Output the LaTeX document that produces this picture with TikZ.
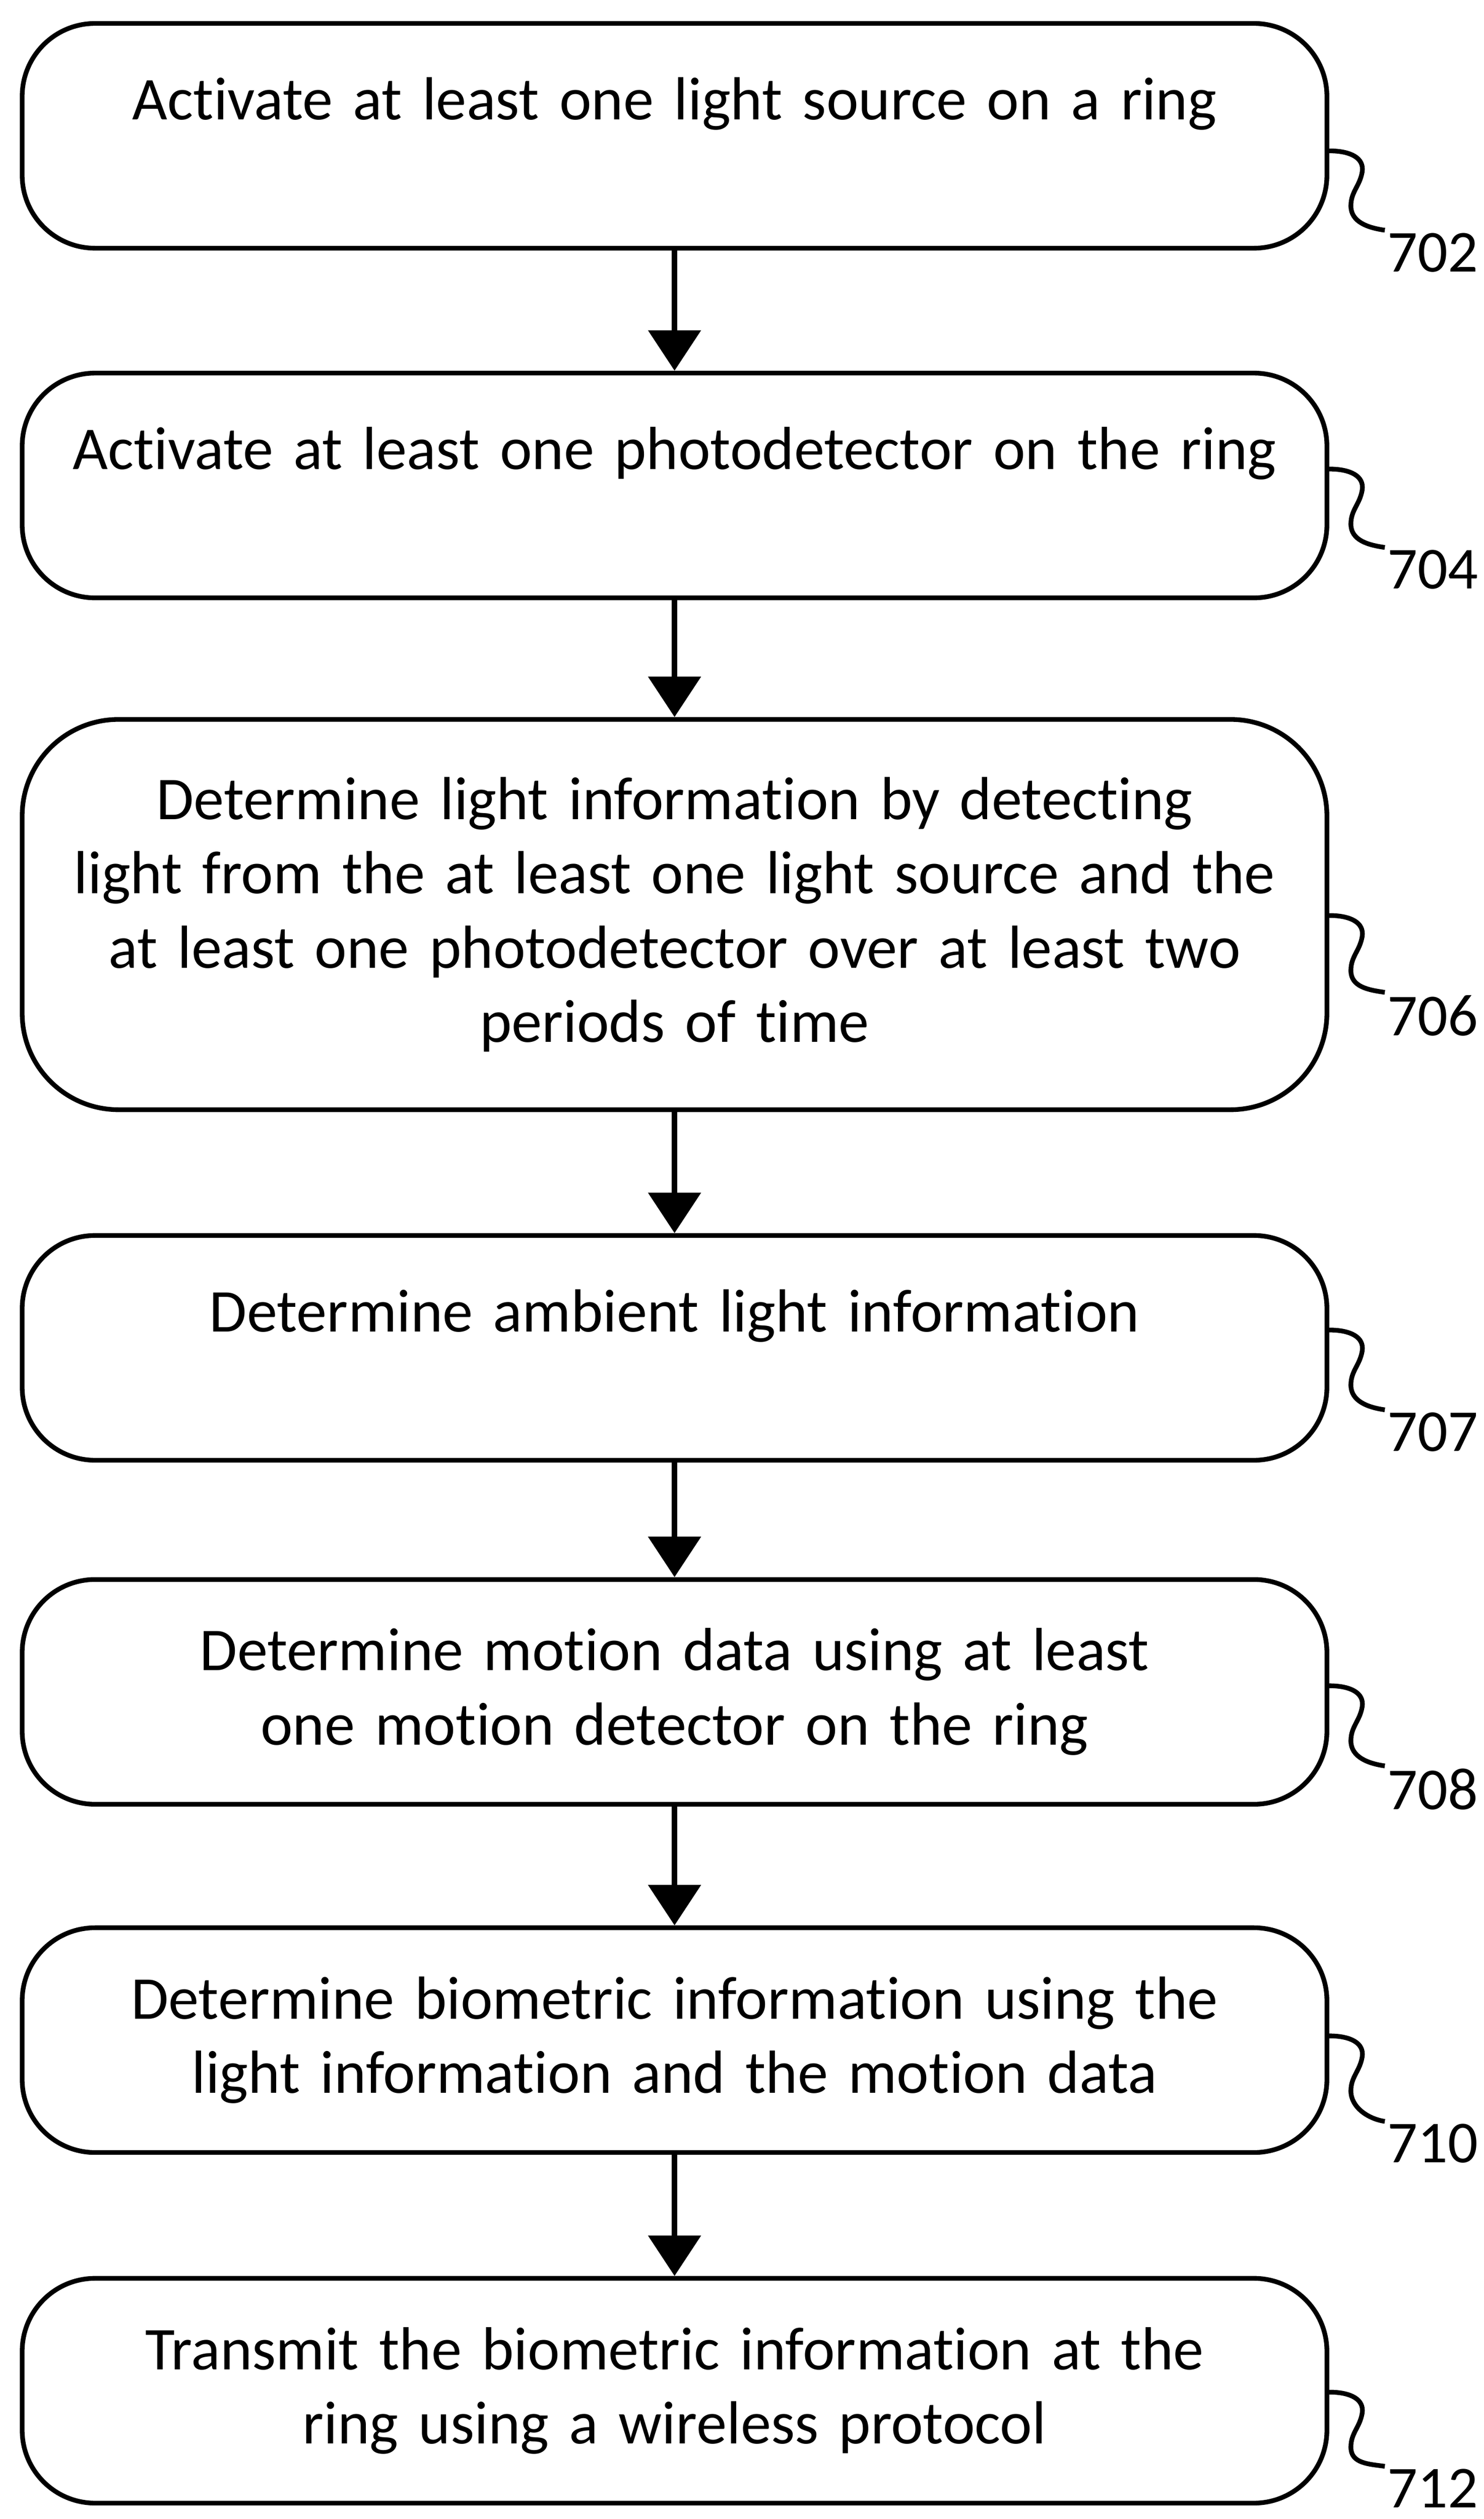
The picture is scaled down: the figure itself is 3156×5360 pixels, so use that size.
\documentclass[tikz,border=0pt]{standalone}
\usepackage{fontspec}
\setmainfont{Carlito}[Ligatures=NoCommon]
\usetikzlibrary{arrows.meta}
\begin{document}
\begin{tikzpicture}[x=0.01cm, y=-0.01cm,
        stepbox/.style={draw, line width=0.1cm, rounded corners=1.55cm, minimum width=27.74cm, minimum height=4.78cm, text width=27.3cm, inner sep=0.1cm, align=center, font=\fontsize{36.8pt}{45pt}\selectfont},
        flow/.style={line width=0.12cm, -{Triangle[width=1.1cm, length=0.86cm]}},
        leader/.style={line width=0.1cm},
        refnum/.style={anchor=base west, inner sep=0pt, outer sep=0.06cm, font=\fontsize{36pt}{45pt}\selectfont}]
        \useasboundingbox (0,0) rectangle (3156,5360);
        % Steps
        \node[stepbox] (s702) at (1435,289) {Activate at least one light source on a ring\\ \mbox{}};
        \node[stepbox] (s704) at (1435,1033) {Activate at least one photodetector on the ring\\ \mbox{}};
        \node[stepbox, minimum height=8.3cm, rounded corners=2.05cm] (s706) at (1435,1946) {Determine light information by detecting\\ light from the at least one light source and the\\ at least one photodetector over at least two\\ periods of time};
        \node[stepbox] (s707) at (1435,2868) {Determine ambient light information\\ \mbox{}};
        \node[stepbox] (s708) at (1435,3600) {Determine motion data using at least\\ one motion detector on the ring};
        \node[stepbox] (s710) at (1435,4341) {Determine biometric information using the\\ light information and the motion data};
        \node[stepbox] (s712) at (1435,5087) {Transmit the biometric information at the\\ ring using a wireless protocol};

        % Arrows
        \draw[flow] (s702.south) -- (s704.north);
        \draw[flow] (s704.south) -- (s706.north);
        \draw[flow] (s706.south) -- (s707.north);
        \draw[flow] (s707.south) -- (s708.north);
        \draw[flow] (s708.south) -- (s710.north);
        \draw[flow] (s710.south) -- (s712.north);

        % Reference numerals
        \node[refnum] (l702) at (2946,578) {702};
        \node[refnum] (l704) at (2946,1253) {704};
        \node[refnum] (l706) at (2946,2203) {706};
        \node[refnum] (l707) at (2946,3088) {707};
        \node[refnum] (l708) at (2946,3850) {708};
        \node[refnum] (l710) at (2946,4602) {710};
        \node[refnum] (l712) at (2946,5336) {712};

        % Leaders
        \draw[leader] (s702.east |- 0,321) .. controls +(45,0) and +(5,-30) .. ++(70,45) .. controls +(-5,30) and +(0,-30) .. ++(-24,72) .. controls +(0,35) and +(-35,-5) .. (l702.north west);
        \draw[leader] (s704.east |- 0,998) .. controls +(45,0) and +(5,-30) .. ++(70,45) .. controls +(-5,30) and +(0,-30) .. ++(-24,72) .. controls +(0,35) and +(-35,-5) .. (l704.north west);
        \draw[leader] (s706.east |- 0,1948) .. controls +(45,0) and +(5,-30) .. ++(70,45) .. controls +(-5,30) and +(0,-30) .. ++(-24,72) .. controls +(0,35) and +(-35,-5) .. (l706.north west);
        \draw[leader] (s707.east |- 0,2830) .. controls +(45,0) and +(5,-30) .. ++(70,45) .. controls +(-5,30) and +(0,-30) .. ++(-24,72) .. controls +(0,35) and +(-35,-5) .. (l707.north west);
        \draw[leader] (s708.east |- 0,3587) .. controls +(45,0) and +(5,-30) .. ++(70,45) .. controls +(-5,30) and +(0,-30) .. ++(-24,72) .. controls +(0,35) and +(-35,-5) .. (l708.north west);
        \draw[leader] (s710.east |- 0,4332) .. controls +(45,0) and +(5,-30) .. ++(70,45) .. controls +(-5,30) and +(0,-30) .. ++(-24,72) .. controls +(0,35) and +(-35,-5) .. (l710.north west);
        \draw[leader] (s712.east |- 0,5090) .. controls +(45,0) and +(5,-30) .. ++(70,45) .. controls +(-5,30) and +(0,-30) .. ++(-24,72) .. controls +(0,35) and +(-35,-5) .. (l712.north west);
\end{tikzpicture}
\end{document}
